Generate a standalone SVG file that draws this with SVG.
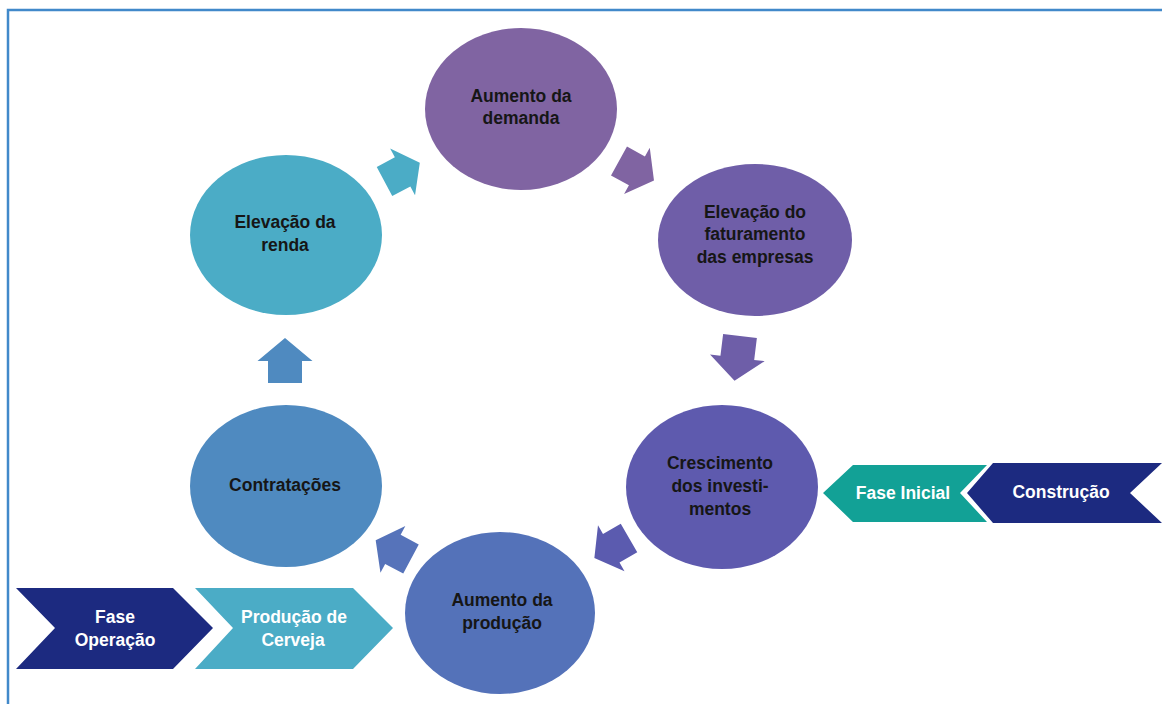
<svg xmlns="http://www.w3.org/2000/svg" width="1162" height="704" viewBox="0 0 1162 704">
<style>
.t{font-family:"Liberation Sans",Arial,sans-serif;font-weight:bold;font-size:17.5px;fill:#161616;text-anchor:middle;dominant-baseline:central}
.w{font-family:"Liberation Sans",Arial,sans-serif;font-weight:bold;font-size:17.5px;fill:#ffffff;text-anchor:middle;dominant-baseline:central}
</style>
<defs>
<path id="arr" d="M0,-16.5 L20.5,-16.5 L20.5,-26.5 L40,0 L20.5,26.5 L20.5,16.5 L0,16.5 Z"/>
<path id="arrL" d="M0,-17 L22,-17 L22,-27.5 L45,0 L22,27.5 L22,17 L0,17 Z"/>
</defs>
<rect x="8" y="10" width="1170" height="710" fill="none" stroke="#4189CA" stroke-width="2.5"/>
<g id="connectors">
<use href="#arr" transform="translate(384.5,181.5) rotate(-28)" fill="#4BACC6"/>
<use href="#arr" transform="translate(619,161) rotate(29)" fill="#8064A2"/>
<use href="#arrL" transform="translate(740,336) rotate(97)" fill="#6E5EA8"/>
<use href="#arr" transform="translate(629,538) rotate(150)" fill="#5B5BAF"/>
<use href="#arr" transform="translate(411,559) rotate(208)" fill="#5673BA"/>
<use href="#arrL" transform="translate(285,383) rotate(-90)" fill="#4F8AC0"/>
</g>
<g id="n-renda">
<ellipse cx="286" cy="235" rx="96" ry="80" fill="#4BACC6"/>
<text class="t" x="285" y="222">Elevação da</text>
<text class="t" x="285" y="245">renda</text>
</g>
<g id="n-demanda">
<ellipse cx="521" cy="109" rx="96" ry="81" fill="#8064A2"/>
<text class="t" x="521" y="96">Aumento da</text>
<text class="t" x="521" y="118">demanda</text>
</g>
<g id="n-faturamento">
<ellipse cx="755" cy="240" rx="97" ry="76" fill="#6F5EA8"/>
<text class="t" x="755" y="212">Elevação do</text>
<text class="t" x="755" y="234">faturamento</text>
<text class="t" x="755" y="257">das empresas</text>
</g>
<g id="n-crescimento">
<ellipse cx="722" cy="487" rx="96" ry="82" fill="#5E5AAE"/>
<text class="t" x="720" y="463">Crescimento</text>
<text class="t" x="720" y="486">dos investi-</text>
<text class="t" x="720" y="509">mentos</text>
</g>
<g id="n-producao">
<ellipse cx="500" cy="613" rx="95" ry="81" fill="#5472B9"/>
<text class="t" x="502" y="600">Aumento da</text>
<text class="t" x="502" y="623">produção</text>
</g>
<g id="n-contratacoes">
<ellipse cx="286" cy="486" rx="96" ry="81" fill="#4F8AC0"/>
<text class="t" x="285" y="485">Contratações</text>
</g>
<g id="c-fase-inicial">
<polygon points="823,493 853,465 987,465 960,493 987,522 853,522" fill="#12A196"/>
<text class="w" x="903" y="493">Fase Inicial</text>
</g>
<g id="c-construcao">
<polygon points="967,493 993,463 1162,463 1130,493 1162,523 993,523" fill="#1C2A80"/>
<text class="w" x="1061" y="492">Construção</text>
</g>
<g id="c-fase-operacao">
<polygon points="16,588 173,588 213,628 173,669 16,669 55,628" fill="#1C2A80"/>
<text class="w" x="115" y="617">Fase</text>
<text class="w" x="115" y="640">Operação</text>
</g>
<g id="c-producao-cerveja">
<polygon points="195,588 353,588 393,628 353,669 195,669 233,628" fill="#4BACC6"/>
<text class="w" x="294" y="617">Produção de</text>
<text class="w" x="293" y="640">Cerveja</text>
</g>
</svg>
